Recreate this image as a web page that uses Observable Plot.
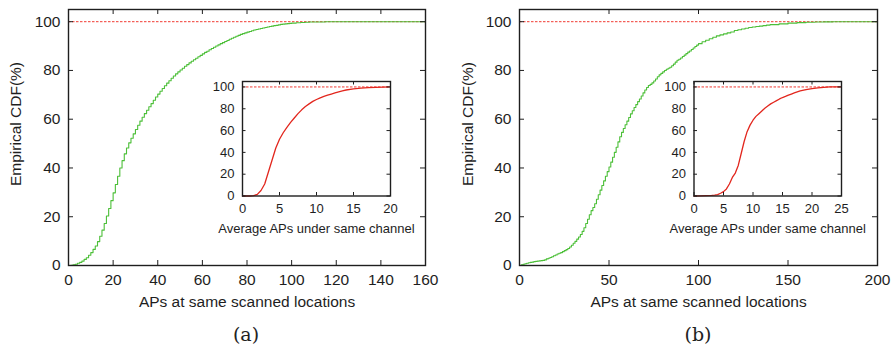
<!DOCTYPE html>
<html><head><meta charset="utf-8">
<script src="https://cdn.jsdelivr.net/npm/d3@7"></script>
<script src="https://cdn.jsdelivr.net/npm/@observablehq/plot@0.6"></script>
<style>
body{margin:0;background:#fff;}
#root{position:relative;width:894px;height:345px;overflow:hidden;font-family:"Liberation Sans",Arial,sans-serif;}
#root svg{position:absolute;overflow:visible;}
.cap{position:absolute;font-family:"DejaVu Serif",serif;font-size:19px;color:#222;transform:translate(-50%,-50%);line-height:1;}
</style></head><body><div id="root"></div>
<script>
// ---- Data ----
const mainXLabel = "APs at same scanned locations";
const mainYLabel = "Empirical CDF(%)";
const insetXLabel = "Average APs under same channel";
const captions = ["(a)", "(b)"];

const cdfTicks = [0, 20, 40, 60, 80, 100];
const aTicksX = [0, 20, 40, 60, 80, 100, 120, 140, 160];
const bTicksX = [0, 50, 100, 150, 200];
const insetATicksX = [0, 5, 10, 15, 20];
const insetBTicksX = [0, 5, 10, 15, 20, 25];

// panel (a) main: APs at same scanned locations
const aX = [0,1,2,3,4,5,6,7,8,9,10,11,12,13,14,15,16,17,18,19,20,21,22,23,24,25,26,27,28,29,30,31,32,33,34,35,36,37,38,39,40,41,42,43,44,45,46,47,48,49,50,51,52,53,54,55,56,57,58,59,60,61,62,63,64,65,66,67,68,69,70,71,72,73,74,75,76,77,78,79,80,81,82,83,84,85,86,87,88,89,90,91,92,93,94,95,96,97,98,99,100,102,104,106,108,110,115,120,160];
const aCdf = [0,0.1,0.3,0.5,0.9,1.3,1.8,2.5,3.2,4.2,
5.3,6.6,8.0,9.8,12.0,14.5,17.2,20.3,23.4,26.6,
29.8,33.2,36.6,40.0,43.0,45.8,48.2,50.3,52.2,54.0,
55.8,57.5,59.2,60.8,62.3,63.7,65.1,66.4,67.8,69.1,
70.3,71.5,72.6,73.7,74.8,75.8,76.8,77.7,78.6,79.4,
80.2,80.9,81.7,82.4,83.1,83.8,84.4,85.0,85.6,86.2,
86.8,87.4,87.9,88.5,89.0,89.5,90.0,90.5,91.0,91.4,
91.9,92.3,92.8,93.2,93.6,94.0,94.4,94.8,95.1,95.4,
95.7,96.0,96.3,96.6,96.8,97.0,97.2,97.4,97.6,97.8,
98.0,98.2,98.4,98.5,98.7,98.9,99.0,99.1,99.2,99.3,
99.4,99.55,99.65,99.75,99.85,99.9,99.95,100,100];

// panel (b) main
const bX = [0,1,2,3,4,5,6,7,8,9,10,11,12,13,14,15,16,17,18,19,20,21,22,23,24,25,26,27,28,29,30,31,32,33,34,35,36,37,38,39,40,41,42,43,44,45,46,47,48,49,50,51,52,53,54,55,56,57,58,59,60,61,62,63,64,65,66,67,68,69,70,71,72,73,74,75,76,77,78,79,80,81,82,83,84,85,86,87,88,89,90,91,92,93,94,95,96,97,98,99,100,
102,104,106,108,110,112,114,116,118,120,122,124,126,128,130,132,134,136,138,140,145,150,155,160,165,170,175,180,200];
const bCdf = [0,0.3,0.5,0.7,0.9,1.1,1.3,1.4,1.6,1.7,
1.8,1.9,2.0,2.1,2.3,2.7,3.0,3.3,3.6,4.0,
4.3,4.7,5.0,5.3,5.7,6.1,6.5,7.0,7.6,8.3,
9.1,9.9,10.8,11.7,12.7,14.0,15.5,17.2,19.0,20.8,
22.5,23.8,25.3,27.2,29.0,30.9,32.8,34.7,36.6,38.5,
40.4,42.4,44.4,46.4,48.5,50.7,52.8,54.6,56.2,57.7,
59.2,60.7,62.2,63.5,64.8,66.0,67.2,68.3,69.5,70.8,
72.0,73.0,73.8,74.3,74.9,75.7,76.5,77.4,78.2,78.8,
79.4,80.0,80.5,80.9,81.3,81.9,82.6,83.4,84.2,84.6,
85.1,85.7,86.3,86.9,87.5,88.0,88.6,89.2,89.8,90.4,
91.0,
91.8,92.4,93.0,93.6,94.2,94.6,95.0,95.4,95.8,96.4,
96.7,97.0,97.3,97.6,97.8,98.0,98.2,98.4,98.6,98.8,
99.1,99.4,99.6,99.75,99.85,99.92,99.97,100,100];

// inset (a): average APs under same channel
const insetAX = [0,0.5,1,1.5,2,2.5,3,3.5,4,4.5,5,5.5,6,6.5,7,7.5,8,8.5,9,9.5,10,10.5,11,11.5,12,12.5,13,13.5,14,15,16,17,18,19,20];
const insetACdf = [0,0,0,0.3,1.5,5,11,22,33,44,52,58,63,67.5,71.5,75.5,79,82,84.5,86.8,88.5,90,91.3,92.4,93.5,94.5,95.5,96.5,97.2,98.2,98.9,99.4,99.7,99.9,100];

// inset (b)
const insetBX = [0,1,2,3,3.5,4,4.5,5,5.5,6,6.5,7,7.5,8,8.5,9,9.5,10,10.5,11,11.5,12,12.5,13,13.5,14,14.5,15,15.5,16,16.5,17,18,19,20,21,22,23,25];
const insetBCdf = [0,0.1,0.3,0.5,0.8,1.3,2.5,4,6.5,11,17,21,28,39,50,59,65,69.5,73,75.5,78,80.5,82.5,84.5,86,87.5,89,90.3,91.3,92.5,93.5,94.5,96.3,97.6,98.5,99.2,99.7,100,100];

// ---- Styles ----
const GREEN = "#4cbf38";
const RED = "#e2261d";
const REF_RED = "#f03a32";
const INK = "#1e1e1e";
const FONT = '"Liberation Sans", Arial, sans-serif';

const root = document.getElementById("root");

function place(svg, left, top) {
  svg.style.left = left + "px";
  svg.style.top = top + "px";
  root.appendChild(svg);
}

function cdfPlot({width, height, mL, mR, mT, mB, xDomain, xTicks, xs, ys, color, curve,
                  tick, fontSize, pad, xLabel, xLabelDy, yLabel, yLabelDx, yLabelDy, lineWidth, whiteFill}) {
  const frameH = height - mT - mB;
  const frameW = width - mL - mR;
  const data = xs.map((x, i) => ({x, y: ys[i]}));
  const marks = [];
  if (whiteFill) marks.push(Plot.frame({fill: "white", stroke: null}));
  marks.push(
    Plot.ruleY([100], {stroke: REF_RED, strokeWidth: 1, strokeDasharray: "2.5,1.5"}),
    Plot.line(data, {x: "x", y: "y", curve, stroke: color, strokeWidth: lineWidth}),
    Plot.tickX(xTicks, {x: d => d, insetTop: frameH - tick, stroke: INK, strokeWidth: 1}),
    Plot.tickX(xTicks, {x: d => d, insetBottom: frameH - tick, stroke: INK, strokeWidth: 1}),
    Plot.tickY(cdfTicks, {y: d => d, insetRight: frameW - tick, stroke: INK, strokeWidth: 1}),
    Plot.tickY(cdfTicks, {y: d => d, insetLeft: frameW - tick, stroke: INK, strokeWidth: 1}),
    Plot.axisX(xTicks, {tickSize: 0, tickPadding: pad, label: null, fill: INK}),
    Plot.axisY(cdfTicks, {tickSize: 0, tickPadding: pad, label: null, fill: INK}),
    Plot.frame({stroke: INK, strokeWidth: 1.4}),
    Plot.text([xLabel], {frameAnchor: "bottom", dy: xLabelDy, text: d => d, textAnchor: "middle", lineAnchor: "middle", fill: INK})
  );
  if (yLabel) marks.push(Plot.text([yLabel], {frameAnchor: "left", dx: yLabelDx, dy: yLabelDy, rotate: -90, text: d => d, textAnchor: "middle", lineAnchor: "middle", fill: INK}));
  return Plot.plot({
    width, height, marginLeft: mL, marginRight: mR, marginTop: mT, marginBottom: mB,
    style: {background: "transparent", fontFamily: FONT, fontSize: fontSize + "px", color: INK, overflow: "visible"},
    x: {domain: xDomain, label: null},
    y: {domain: [0, 105], label: null},
    marks
  });
}

// main (a)
place(cdfPlot({width: 450, height: 345, mL: 68, mR: 25, mT: 9, mB: 80, xDomain: [0, 160], xTicks: aTicksX,
  xs: aX, ys: aCdf, color: GREEN, curve: "step-after", tick: 5, fontSize: 15.5, pad: 8,
  xLabel: mainXLabel, xLabelDy: 37, yLabel: mainYLabel, yLabelDx: -52, yLabelDy: -13.5, lineWidth: 1.1}), 0, 0);
// inset (a)
place(cdfPlot({width: 225, height: 170, mL: 42, mR: 35, mT: 11, mB: 44.5, xDomain: [0, 20], xTicks: insetATicksX,
  xs: insetAX, ys: insetACdf, color: RED, curve: "linear", tick: 3.5, fontSize: 13, pad: 8,
  xLabel: insetXLabel, xLabelDy: 32.5, lineWidth: 1.3, whiteFill: true}), 200, 70);
// main (b)
place(cdfPlot({width: 444, height: 345, mL: 69, mR: 17, mT: 9, mB: 80, xDomain: [0, 200], xTicks: bTicksX,
  xs: bX, ys: bCdf, color: GREEN, curve: "step-after", tick: 5, fontSize: 15.5, pad: 8,
  xLabel: mainXLabel, xLabelDy: 37, yLabel: mainYLabel, yLabelDx: -51, yLabelDy: -13.5, lineWidth: 1.1}), 450, 0);
// inset (b)
place(cdfPlot({width: 240, height: 170, mL: 43.5, mR: 49, mT: 11, mB: 44.5, xDomain: [0, 25], xTicks: insetBTicksX,
  xs: insetBX, ys: insetBCdf, color: RED, curve: "linear", tick: 3.5, fontSize: 13, pad: 8,
  xLabel: insetXLabel, xLabelDy: 32.5, lineWidth: 1.3, whiteFill: true}), 650, 70);

// captions
[[captions[0], 246, 334], [captions[1], 698, 334]].forEach(([t, x, y]) => {
  const d = document.createElement("div");
  d.className = "cap";
  d.textContent = t;
  d.style.left = x + "px";
  d.style.top = y + "px";
  root.appendChild(d);
});
</script>
</body></html>
